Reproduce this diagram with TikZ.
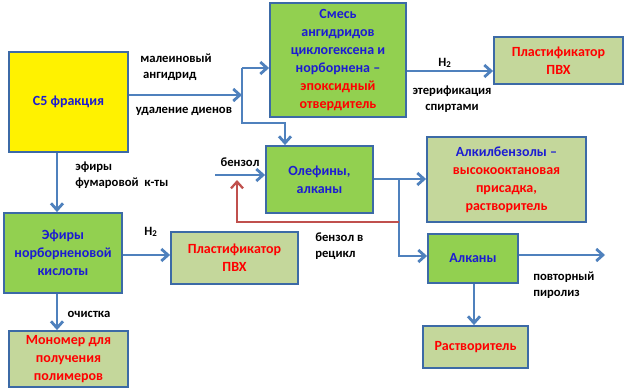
\documentclass[tikz,border=0pt]{standalone}
\usepackage{fontspec}
\setmainfont{Carlito}
\usetikzlibrary{arrows.meta,shadows}
\definecolor{boxline}{HTML}{3C6AA6}
\definecolor{arrowblue}{HTML}{4F81BD}
\definecolor{loopred}{HTML}{C0504D}
\definecolor{darkgreen}{HTML}{92D050}
\definecolor{palegreen}{HTML}{C4D79B}
\definecolor{txtblue}{HTML}{1C1CD2}
\definecolor{txtred}{HTML}{FF0000}
\newcommand{\bl}[1]{\textcolor{txtblue}{#1}}
\newcommand{\rd}[1]{\textcolor{txtred}{#1}}
\begin{document}
\begin{tikzpicture}[x=0.75pt, y=-0.75pt,
  every node/.style={font=\bfseries\fontsize{10.5}{13.5}\selectfont},
  box/.style={draw=boxline, line width=1.4pt, align=center, inner sep=0pt,
    drop shadow={opacity=0.25, shadow xshift=1pt, shadow yshift=-1pt}},
  sz/.style 2 args={minimum width={#1*0.75pt}, minimum height={#2*0.75pt}},
  hot/.style={box, fill=darkgreen},
  product/.style={box, fill=palegreen},
  feed/.style={box, fill=yellow},
  lbl/.style={font=\bfseries\fontsize{9.5}{12}\selectfont, inner sep=0pt},
  flow/.style={draw=arrowblue, line width=2.1pt, -{Straight Barb[length=5pt,width=9pt]}},
  recycle/.style={draw=loopred, line width=1.7pt, -{Straight Barb[length=5pt,width=9pt]}}]
\useasboundingbox (0,0) rectangle (626,389);

% boxes
\node[feed, sz={119}{100}] (c5) at (68.5,102) {\bl{С5 фракция}};
\node[hot, sz={136}{114}] (mix) at (338,60)
  {\bl{Смесь}\\\bl{ангидридов}\\\bl{циклогексена и}\\\bl{норборнена –}\\\rd{эпоксидный}\\\rd{отвердитель}};
\node[product, sz={129}{47}] (pvc1) at (558.5,60.5) {\rd{Пластификатор}\\\rd{ПВХ}};
\node[hot, sz={107}{67}] (olef) at (319.5,179.5) {\bl{Олефины,}\\\bl{алканы}};
\node[product, sz={159}{85}] (alkb) at (506.5,179.5)
  {\bl{Алкилбензолы –}\\\rd{высокооктановая}\\\rd{присадка,}\\\rd{растворитель}};
\node[hot, sz={118}{80}] (ester) at (63,253) {\bl{Эфиры}\\\bl{норборненовой}\\\bl{кислоты}};
\node[product, sz={127}{52}] (pvc2) at (234.5,258) {\rd{Пластификатор}\\\rd{ПВХ}};
\node[product, sz={119}{56}] (mono) at (68.5,359) {\rd{Мономер для}\\\rd{получения}\\\rd{полимеров}};
\node[hot, sz={90}{49}] (alk) at (473,258.5) {\bl{Алканы}};
\node[product, sz={105}{42}] (solv) at (475.5,347) {\rd{Растворитель}};

% junctions
\coordinate (split) at (242,95);
\coordinate (splitup) at (242,68);
\coordinate (splitdn) at (242,123);
\coordinate (toolef) at (285,123);
\coordinate (fumar) at (57,0);
\coordinate (benz) at (215,175);
\coordinate (outolef) at (399,179);
\coordinate (toalk) at (399,256);
\coordinate (back) at (237,222);
\coordinate (pyro) at (605,255);

% connectors
\draw[flow] (c5.east |- split) -- (split);
\draw[flow] (splitup) -- (splitup -| mix.west);
\draw[flow] (splitup) -- (splitdn) -- (toolef) -- (toolef |- olef.north);
\draw[flow] (mix.east |- 0,71) -- (pvc1.west |- 0,71);
\draw[flow] (fumar |- c5.south) -- (fumar |- ester.north);
\draw[flow] (ester.east |- 0,255) -- (pvc2.west |- 0,255);
\draw[flow] (fumar |- ester.south) -- (fumar |- mono.north);
\draw[flow] (benz) -- (benz -| olef.west);
\draw[flow] (olef.east |- outolef) -- (alkb.west |- outolef);
\draw[flow] (outolef) -- (toalk) -- (toalk -| alk.west);
\draw[recycle] (outolef |- back) -- (back) -- (237,180);
\draw[flow] (alk.east |- pyro) -- (pyro);
\draw[flow] (alk.south -| 474,0) -- (solv.north -| 474,0);

% labels
\node[lbl, align=left] (lmal) at (176,67) {малеиновый\\\ ангидрид};
\node[lbl] (ldien) at (184,111) {удаление диенов};
\node[lbl] (lh1) at (445,63) {H\textsubscript{2}};
\node[lbl, align=center] (lester) at (452,99) {этерификация\\спиртами};
\node[lbl, align=left, anchor=west] (lfum) at (75,175.5) {эфиры\\фумаровой\ \ к-ты};
\node[lbl] (lh2) at (151,232) {H\textsubscript{2}};
\node[lbl] (lclean) at (89,314) {очистка};
\node[lbl] (lbenz) at (240,162) {бензол};
\node[lbl, align=left, anchor=west] (lrec) at (315,246) {бензол в\\рецикл};
\node[lbl, align=left, anchor=west] (lpyro) at (533,285) {повторный\\пиролиз};
\end{tikzpicture}
\end{document}
